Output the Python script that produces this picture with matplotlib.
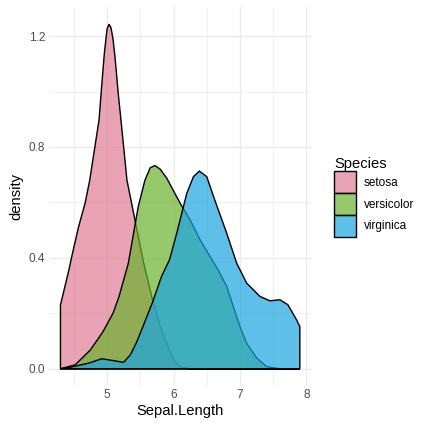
import matplotlib.pyplot as plt
from matplotlib.patches import Patch

plt.rcParams['font.family'] = ['Liberation Sans', 'DejaVu Sans']

species = ['setosa', 'versicolor', 'virginica']
fill_colors = ['#E17C94', '#6AB22D', '#1AA5E1']

# density curves (x, density)
setosa_x = [4.30, 4.34, 4.38, 4.43, 4.47, 4.57, 4.67, 4.74, 4.81, 4.88, 4.92, 4.96, 5.00,
            5.03, 5.06, 5.09, 5.12, 5.17, 5.21, 5.30, 5.42, 5.54, 5.69, 5.80, 5.92, 6.00,
            6.10, 6.25, 7.90]
setosa_y = [0.23, 0.27, 0.31, 0.36, 0.405, 0.51, 0.597, 0.68, 0.789, 0.897, 1.02, 1.138, 1.225,
            1.243, 1.23, 1.19, 1.125, 0.99, 0.897, 0.68, 0.537, 0.393, 0.243, 0.152, 0.08, 0.032,
            0.008, 0.0, 0.0]

versicolor_x = [4.30, 4.52, 4.75, 4.94, 5.09, 5.18, 5.32, 5.47, 5.57, 5.65, 5.72, 5.80,
                5.90, 6.10, 6.25, 6.40, 6.55, 6.67, 6.80, 6.90, 7.00, 7.10, 7.25, 7.40,
                7.60, 7.90]
versicolor_y = [0.0, 0.014, 0.068, 0.134, 0.20, 0.26, 0.38, 0.585, 0.68, 0.725, 0.733, 0.72,
                0.687, 0.597, 0.537, 0.465, 0.405, 0.357, 0.297, 0.224, 0.152, 0.092, 0.039, 0.008,
                0.0, 0.0]

virginica_x = [4.30, 4.44, 4.72, 4.92, 5.08, 5.25, 5.35, 5.44, 5.54, 5.64, 5.69, 5.82, 5.94,
               6.05, 6.20, 6.30, 6.39, 6.50, 6.62, 6.80, 6.95, 7.10, 7.30, 7.45, 7.60,
               7.72, 7.85, 7.90]
virginica_y = [0.0, 0.005, 0.02, 0.036, 0.03, 0.023, 0.05, 0.093, 0.152, 0.213, 0.243, 0.333, 0.393,
               0.49, 0.633, 0.693, 0.713, 0.693, 0.609, 0.489, 0.381, 0.309, 0.261, 0.245, 0.249,
               0.231, 0.177, 0.152]

curves = [(setosa_x, setosa_y), (versicolor_x, versicolor_y), (virginica_x, virginica_y)]

xticks = [5, 6, 7, 8]
xminor = [4.5, 5.5, 6.5, 7.5]
yticks = [0.0, 0.4, 0.8, 1.2]
ytick_labels = ['0.0', '0.4', '0.8', '1.2']
yminor = [0.2, 0.6, 1.0]

fig = plt.figure(figsize=(6, 6), dpi=72)
ax = fig.add_axes([48.5 / 432, 1 - 386 / 432, (311.8 - 48.5) / 432, (386 - 7) / 432])

# each group: translucent fill, then black outline; later groups cover earlier outlines
for (xs, ys), col in zip(curves, fill_colors):
    px = list(xs) + [xs[-1], xs[0]]
    py = list(ys) + [0, 0]
    ax.fill(px, py, facecolor=col, alpha=0.7, edgecolor='none', zorder=2)
    ax.fill(px, py, facecolor='none', edgecolor='black', lw=1.4, zorder=2)

ax.set_xlim(4.12, 8.08)
ax.set_ylim(-0.0622, 1.305)
ax.set_xticks(xticks)
ax.set_xticks(xminor, minor=True)
ax.set_yticks(yticks)
ax.set_yticks(yminor, minor=True)
ax.set_yticklabels(ytick_labels)
ax.grid(which='major', color='#EBEBEB', lw=1.4, zorder=0)
ax.grid(which='minor', color='#EBEBEB', lw=0.7, zorder=0)
ax.set_axisbelow(True)
for s in ax.spines.values():
    s.set_visible(False)
ax.tick_params(which='both', length=0, labelsize=11.7, labelcolor='#4D4D4D', pad=3.5)
ax.set_xlabel('Sepal.Length', fontsize=14.7, labelpad=3)
ax.set_ylabel('density', fontsize=14.7, labelpad=5)

handles = [Patch(facecolor=c + 'B3', edgecolor='black', lw=1.4) for c in fill_colors]
leg = fig.legend(handles, species, title='Species', loc='center left',
                 bbox_to_anchor=(332 / 432, 1 - 197 / 432), frameon=False,
                 fontsize=11.7, title_fontsize=14.7, handlelength=1.88, handleheight=2.48,
                 handletextpad=0.65, labelspacing=0.0, alignment='left', borderpad=0.2,
                 borderaxespad=0)

fig.savefig('out.png', dpi=72)
